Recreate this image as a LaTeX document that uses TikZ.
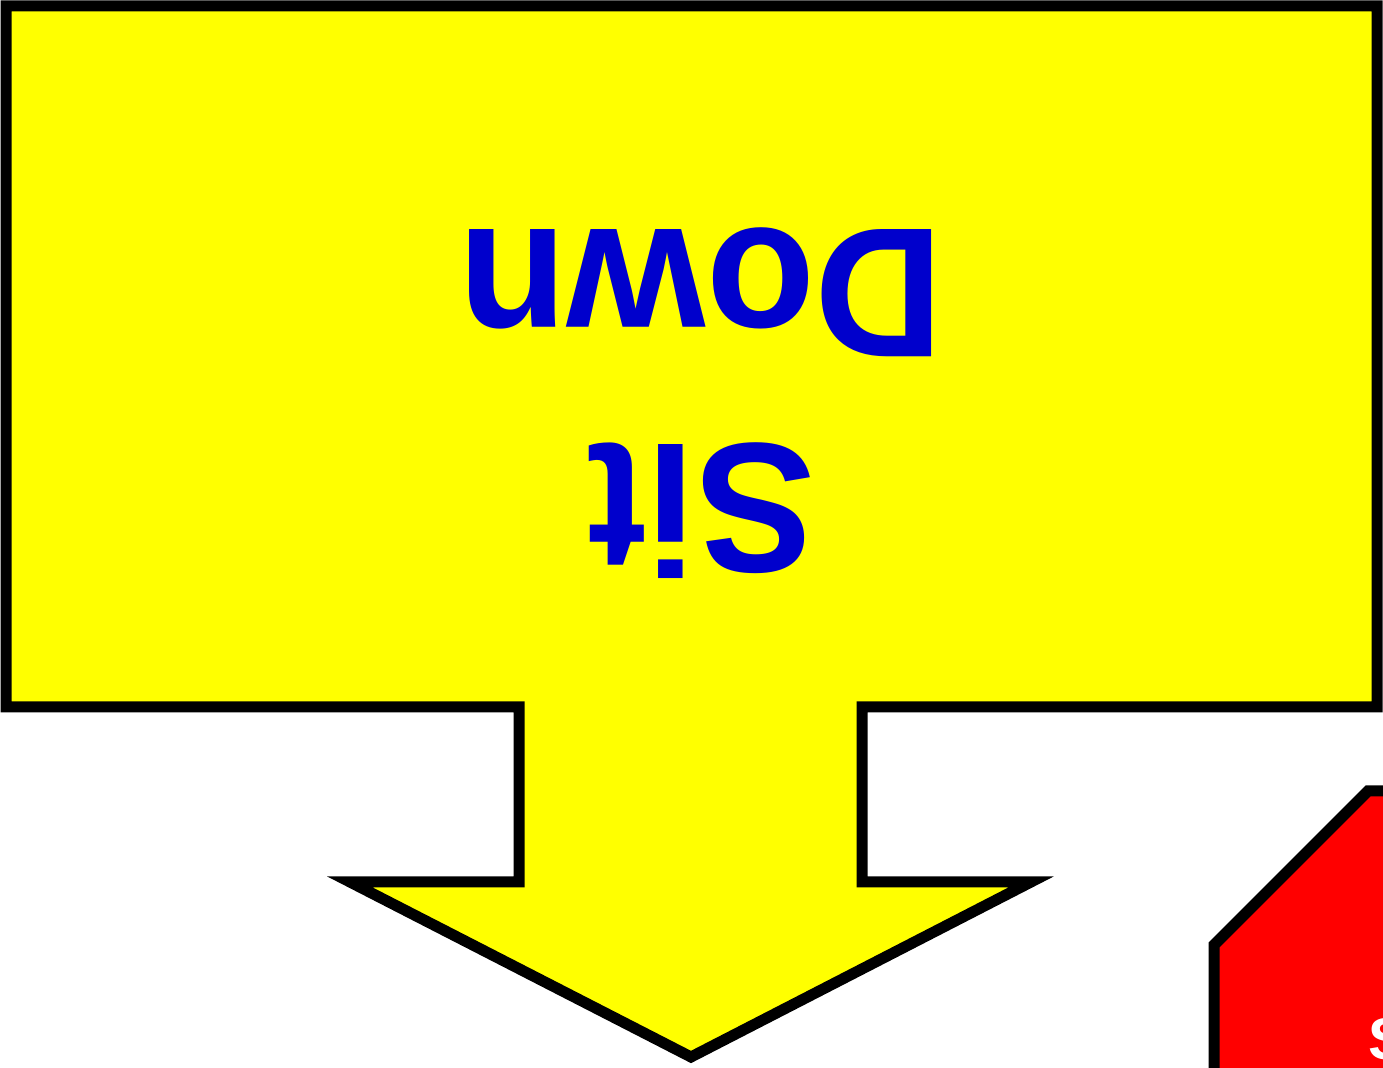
\documentclass[tikz,border=0pt]{standalone}
\usepackage{fontspec}
\setmainfont{Liberation Sans}
\definecolor{signyellow}{HTML}{FFFF00}
\definecolor{signblue}{HTML}{0000CC}
\definecolor{signred}{HTML}{FF0000}
\begin{document}
\begin{tikzpicture}[x=0.5pt,y=-0.5pt,
  outline/.style={draw=black,line width=5.5pt,miter limit=10},
  bigtext/.style={text=signblue,font=\fontsize{92.5}{107.5}\selectfont\bfseries,align=center,inner sep=0pt},
  stoptext/.style={text=white,font=\fontsize{29.5}{35}\selectfont\bfseries,inner sep=0pt}]
\useasboundingbox (0,0) rectangle (1383,1068);
\clip (0,0) rectangle (1383,1068);
% red octagon (stop sign), mostly off-picture
\filldraw[outline,fill=signred] (1368,791) -- (1586,791) -- (1740,945) -- (1740,1163) -- (1586,1317) -- (1368,1317) -- (1214,1163) -- (1214,945) -- cycle;
\node[stoptext,anchor=base west] (stop) at (1368,1060) {STOP};
% yellow callout with downward arrow
\filldraw[outline,fill=signyellow] (6,6) -- (1377,6) -- (1377,707) -- (862,707) -- (862,882) -- (1031,882) -- (691,1057) -- (350,882) -- (519,882) -- (519,707) -- (6,707) -- cycle;
\node[bigtext,rotate=180,xscale=0.965] (msg) at (701,403) {Sit\\Down};
\end{tikzpicture}
\end{document}
